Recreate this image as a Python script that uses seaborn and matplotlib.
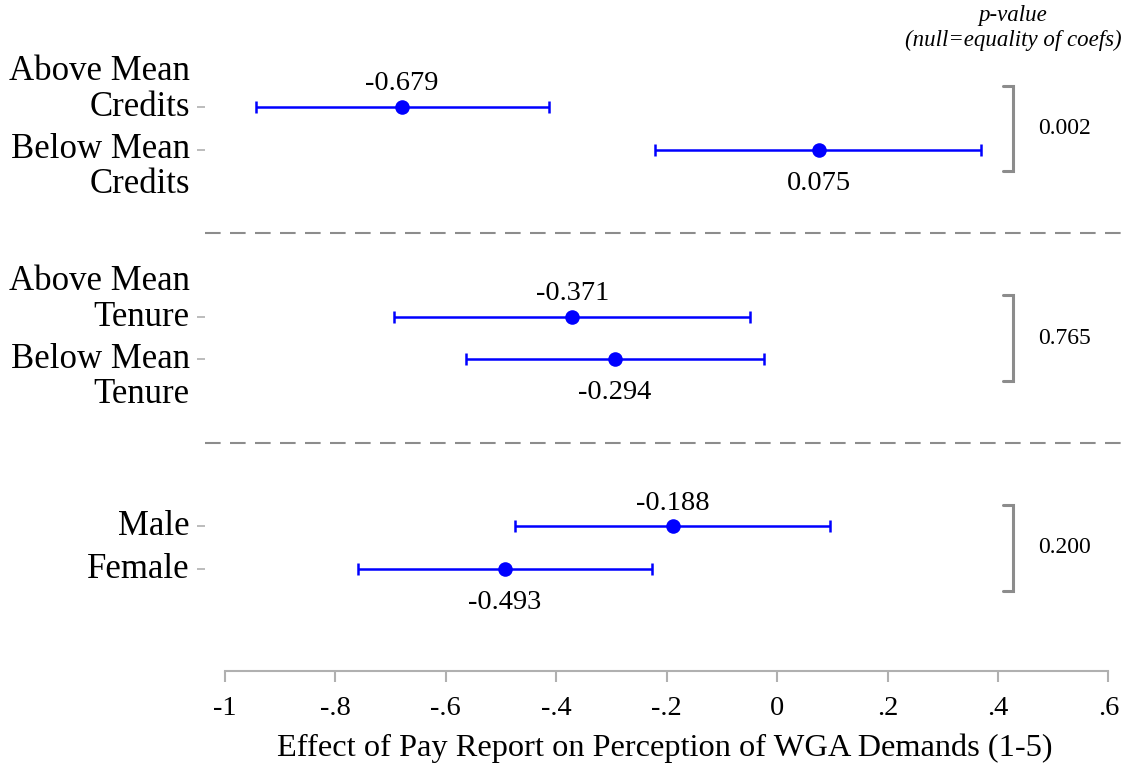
import numpy as np
import pandas as pd
import seaborn as sns
import matplotlib.pyplot as plt

# Estimates and 95% CIs
labels = ["Above Mean\nCredits", "Below Mean\nCredits",
          "Above Mean\nTenure", "Below Mean\nTenure",
          "Male", "Female"]
estimates = [-0.679, 0.075, -0.371, -0.294, -0.188, -0.493]
ci_low = [-0.944, -0.221, -0.694, -0.563, -0.475, -0.759]
ci_high = [-0.413, 0.370, -0.049, -0.024, 0.096, -0.226]
groups = [0, 0, 1, 1, 2, 2]
p_values = ["0.002", "0.765", "0.200"]
x_ticks = [-1, -0.8, -0.6, -0.4, -0.2, 0, 0.2, 0.4, 0.6]
x_tick_labels = ["-1", "-.8", "-.6", "-.4", "-.2", "0", ".2", ".4", ".6"]

GROUP_STEP = 4.9
GRAY = "#8c8c8c"
BLUE = "#0000ff"

df = pd.DataFrame({
    "label": labels,
    "est": estimates,
    "lo": ci_low,
    "hi": ci_high,
    "group": groups,
})
df["within"] = df.groupby("group").cumcount()
df["ypos"] = df["group"] * GROUP_STEP + df["within"]

sns.set_theme(style="white")
plt.rcParams["font.family"] = ["Liberation Serif", "DejaVu Serif"]
plt.rcParams["text.color"] = "black"
plt.rcParams["axes.labelcolor"] = "black"
plt.rcParams["xtick.labelcolor"] = "black"

fig = plt.figure(figsize=(11.3, 7.65), dpi=100)
ax = fig.add_axes([205 / 1130, 0.1229, 920 / 1130, 0.9216 - 0.1229])

# confidence intervals
ax.errorbar(
    df["est"], df["ypos"],
    xerr=[df["est"] - df["lo"], df["hi"] - df["est"]],
    fmt="none", ecolor=BLUE, elinewidth=1.8, capsize=4.5, capthick=1.8,
    zorder=2,
)
# point estimates
sns.scatterplot(data=df, x="est", y="ypos", color=BLUE, s=110,
                edgecolor=BLUE, linewidth=0, ax=ax, zorder=3, legend=False)

# value labels: first row of a pair above, second below
for _, r in df.iterrows():
    if r["within"] == 0:
        ax.annotate(f"{r['est']:.3f}", (r["est"], r["ypos"]),
                    xytext=(0, 12), textcoords="offset points",
                    ha="center", va="baseline", fontsize=20.5)
    else:
        ax.annotate(f"{r['est']:.3f}", (r["est"], r["ypos"]),
                    xytext=(0, -15), textcoords="offset points",
                    ha="center", va="top", fontsize=20.5)

# y labels, two-line ones shifted so the tick sits on the inner line
for _, r in df.iterrows():
    dy = 0
    if "\n" in r["label"]:
        dy = 12.5 if r["within"] == 0 else -12.5
    ax.annotate(r["label"], (0, r["ypos"]),
                xycoords=("axes fraction", "data"),
                xytext=(-11, dy), textcoords="offset points",
                ha="right", va="center", fontsize=25, linespacing=1.1)

# group separators
for g in range(len(p_values) - 1):
    ymid = (g * GROUP_STEP + 1 + (g + 1) * GROUP_STEP) / 2
    ax.axhline(ymid, color=GRAY, linewidth=1.5, linestyle=(0, (7.5, 4.5)))

# brackets with p-values for equality of coefficients
bx, arm = 0.4275, 0.0185
for g, p in enumerate(p_values):
    y0 = g * GROUP_STEP - 0.5
    y1 = g * GROUP_STEP + 1.5
    ax.plot([bx - arm, bx, bx, bx - arm], [y0, y0, y1, y1],
            color=GRAY, linewidth=2.2, solid_joinstyle="miter")
    ax.text(bx + 0.045, g * GROUP_STEP + 0.5, p, ha="left", va="center",
            fontsize=17)

fig.text(1013 / 1130, 1 - 28 / 765, "p-value\n(null=equality of coefs)",
         ha="center", va="center", fontsize=16.5, style="italic",
         linespacing=1.2)

ax.set_xlim(-1.036, 0.630)
ax.set_ylim(13.18, -1.098)
ax.set_xticks(x_ticks)
ax.set_xticklabels(x_tick_labels, fontsize=20.5)
ax.set_yticks(df["ypos"])
ax.set_yticklabels([])
ax.set_xlabel("Effect of Pay Report on Perception of WGA Demands (1-5)",
              fontsize=23.3, labelpad=9)
ax.set_ylabel("")

for side in ["top", "right", "left"]:
    ax.spines[side].set_visible(False)
ax.spines["bottom"].set_color("#b0b0b0")
ax.spines["bottom"].set_linewidth(1.5)
ax.spines["bottom"].set_bounds(-1, 0.6)
ax.tick_params(axis="x", direction="out", length=8, width=1.5,
               color="#b0b0b0", pad=10, bottom=True)
ax.tick_params(axis="y", direction="out", length=6, width=1.2,
               color="#b0b0b0", left=True)

fig.savefig("out.png", dpi=100, facecolor="white")
